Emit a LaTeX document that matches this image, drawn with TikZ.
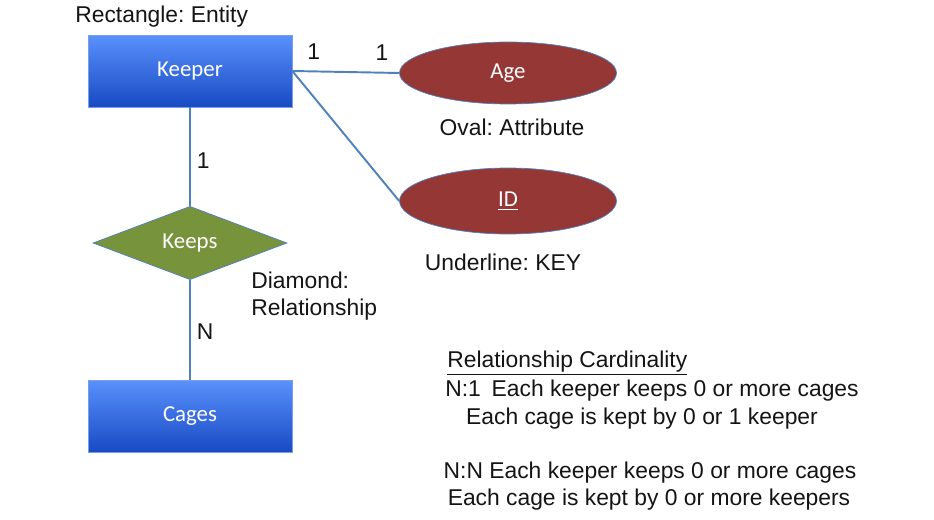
\documentclass[tikz,border=0pt]{standalone}
\usepackage{fontspec}
\setmainfont{Liberation Sans}
\newfontfamily\calibri{Carlito}
\usetikzlibrary{shapes,shadows}
\frenchspacing

\definecolor{entitytop}{RGB}{90,145,252}
\definecolor{entitybottom}{RGB}{24,74,196}
\definecolor{entityedge}{RGB}{120,160,230}
\definecolor{attrred}{RGB}{149,55,53}
\definecolor{relgreen}{RGB}{119,147,60}
\definecolor{linkblue}{RGB}{79,129,189}
\definecolor{notetext}{RGB}{20,20,20}

\begin{document}
\begin{tikzpicture}[x=0.02cm,y=-0.02cm,font=\fontsize{13}{15.5}\selectfont,text=notetext]

  \tikzstyle{entity}=[rectangle,draw=entityedge,thin,
    top color=entitytop,bottom color=entitybottom,
    text=white,font=\calibri\fontsize{13}{15.5}\selectfont,
    minimum width=4.08cm,minimum height=1.44cm,
    drop shadow={opacity=0.25,shadow xshift=0.8pt,shadow yshift=-0.8pt}]
  \tikzstyle{attribute}=[ellipse,draw=linkblue,thin,fill=attrred,
    text=white,font=\calibri\fontsize{13}{15.5}\selectfont,
    minimum width=4.34cm,minimum height=1.24cm]
  \tikzstyle{relation}=[diamond,draw=linkblue,thin,fill=relgreen,
    text=white,font=\calibri\fontsize{13}{15.5}\selectfont,
    minimum width=3.88cm,minimum height=1.42cm,inner sep=0pt]
  \tikzstyle{note}=[inner sep=0pt,text=notetext]

  \useasboundingbox (0,0) rectangle (934,520);

  \node  (keeper) at (190,71)   [entity]     {Keeper};
  \node  (cages)  at (190,416)  [entity]     {Cages};
  \node  (keeps)  at (190,243)  [relation]   {Keeps};
  \node  (age)    at (508,73)   [attribute]  {Age};
  \node  (id)     at (508,201)  [attribute,minimum height=1.32cm] {\underline{ID}};

  %% notes
  \node  (n-entity)   at (75,17)   [note,anchor=west] {Rectangle: Entity};
  \node  (n-attr)     at (512,127) [note]             {Oval: Attribute};
  \node  (n-key)      at (503,262) [note]             {Underline: KEY};
  \node  (n-relation) at (251,296) [note,anchor=west,align=left]
         {Diamond:\\Relationship};

  \node  (card-head) at (447,363) [note,anchor=west] {\underline{Relationship Cardinality}};
  \node  (card-a1)   at (652,391) [note] {N:1\hspace{0.2em} Each keeper keeps 0 or more cages};
  \node  (card-a2)   at (642,419) [note] {Each cage is kept by 0 or 1 keeper};
  \node  (card-b1)   at (650,473) [note] {N:N Each keeper keeps 0 or more cages};
  \node  (card-b2)   at (649,500) [note] {Each cage is kept by 0 or more keepers};

  \tikzstyle{link}=[-,draw=linkblue,line width=1.1pt]

  \path (keeper.east) edge [link] node[above=3pt,pos=0.2] {1}
                                  node[above=3pt,pos=0.84] {1}     (age.west)
        (keeper.east) edge [link]                                  (id.west)
        (keeper)      edge [link] node[right,yshift=-2pt] {1}      (keeps)
        (keeps)       edge [link] node[right,yshift=-1pt] {N}      (cages);
\end{tikzpicture}
\end{document}
